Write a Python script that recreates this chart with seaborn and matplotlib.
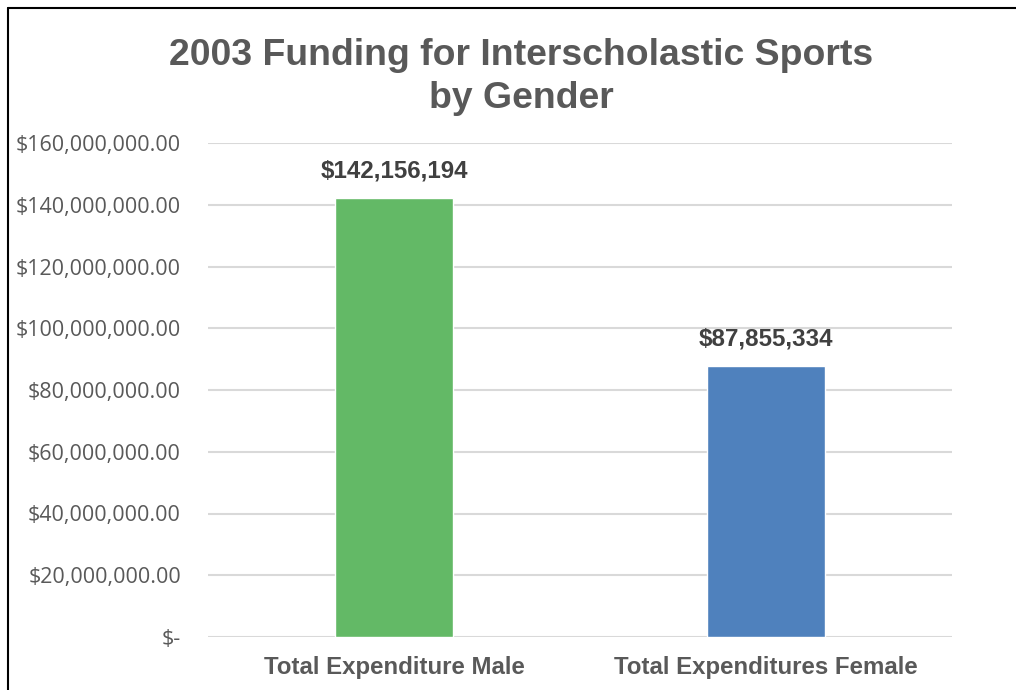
import matplotlib
matplotlib.use("Agg")
import matplotlib.pyplot as plt
import seaborn as sns
import pandas as pd
from matplotlib.lines import Line2D
from matplotlib.ticker import FuncFormatter

categories = ["Total Expenditure Male", "Total Expenditures Female"]
values = [142156194, 87855334]
bar_labels = ["$142,156,194", "$87,855,334"]
yticks = [0, 20000000, 40000000, 60000000, 80000000, 100000000, 120000000, 140000000, 160000000]
colors = ["#63b966", "#4f81bd"]

sns.set_theme(style="white")
plt.rcParams['font.family'] = ['Liberation Sans', 'DejaVu Sans']

df = pd.DataFrame({"cat": categories, "val": values})

fig = plt.figure(figsize=(10.16, 6.9), dpi=100)
ax = fig.add_axes([208/1016, 1-637/690, (952-208)/1016, (637-143)/690])

sns.barplot(data=df, x="cat", y="val", hue="cat", palette=colors, width=0.315,
            legend=False, ax=ax, saturation=1)

ax.set_ylim(0, 160000000)
ax.set_xlim(-0.5, 1.5)
ax.set_yticks(yticks)

def fmt(v, pos):
    if v == 0:
        return "$-"
    return "${:,.2f}".format(v)
ax.yaxis.set_major_formatter(FuncFormatter(fmt))

ax.grid(axis="y", color="#d9d9d9", linewidth=1.5)
ax.set_axisbelow(True)
for s in ax.spines.values():
    s.set_visible(False)
ax.tick_params(axis="both", length=0)
ax.set_xlabel("")
ax.set_ylabel("")

for lab in ax.get_yticklabels():
    lab.set_fontfamily(['Open Sans', 'DejaVu Sans'])
    lab.set_fontsize(15.5)
    lab.set_color("#595959")
ax.tick_params(axis="y", pad=19.5)
for lab in ax.get_xticklabels():
    lab.set_fontfamily(['Liberation Sans', 'DejaVu Sans'])
    lab.set_fontweight("bold")
    lab.set_fontsize(17.3)
    lab.set_color("#595959")
ax.tick_params(axis="x", pad=14)

for i, (v, t) in enumerate(zip(values, bar_labels)):
    ax.annotate(t, (i, v), xytext=(0, 11), textcoords="offset points",
                ha="center", va="bottom", fontsize=17.4, fontweight="bold",
                color="#404040", family=['Liberation Sans', 'DejaVu Sans'])

fig.text(521/1016, 1-77/690, "2003 Funding for Interscholastic Sports\nby Gender",
         ha="center", va="center", fontsize=26.9, fontweight="bold", color="#595959",
         family=['Liberation Sans', 'DejaVu Sans'], linespacing=1.32)

fig.add_artist(Line2D([8/1016, 8/1016], [0, 1-8/690], color="black", lw=1.5,
                      transform=fig.transFigure))
fig.add_artist(Line2D([8/1016, 1], [1-8/690, 1-8/690], color="black", lw=1.5,
                      transform=fig.transFigure))

fig.savefig("out.png", dpi=100)
